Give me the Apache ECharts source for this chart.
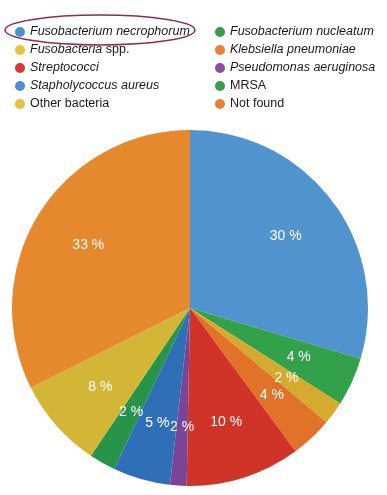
<!DOCTYPE html>
<html><head><meta charset="utf-8">
<script src="https://cdn.jsdelivr.net/npm/echarts@6/dist/echarts.min.js"></script>
<style>html,body{margin:0;padding:0;background:#fff}#c{width:387px;height:495px}</style>
</head><body><div id="c"></div>
<script>
const categories = ['Fusobacterium necrophorum','Fusobacterium nucleatum','Fusobacteria spp.','Klebsiella pneumoniae','Streptococci','Pseudomonas aeruginosa','Stapholycoccus aureus','MRSA','Other bacteria','Not found'];
const legendText = ['{i|Fusobacterium necrophorum}','{i|Fusobacterium nucleatum}','{i|Fusobacteria} spp.','{i|Klebsiella pneumoniae}','{i|Streptococci}','{i|Pseudomonas aeruginosa}','{i|Stapholycoccus aureus}','MRSA','Other bacteria','Not found'];
const values = [29.6, 4.4, 2.1, 3.8, 10.4, 1.5, 5.2, 2.4, 8.2, 32.4];
const percentLabels = ['30 %','4 %','2 %','4 %','10 %','2 %','5 %','2 %','8 %','33 %'];
const sliceColors = ['#5193cf','#33a04a','#d6aa2e','#e07328','#d03328','#7b4597','#2e6fb7','#27944a','#d4b637','#e6892e'];
const legendColors = ['#4a8fd0','#3a9e48','#e6c440','#ec7e35','#d9382c','#8a4da0','#4a8fd0','#3a9e48','#e8c23e','#ec7e35'];

const chart = echarts.init(document.getElementById('c'), null, {renderer:'canvas'});
const data = categories.map((n,i)=>({name:n, value:values[i], itemStyle:{color:sliceColors[i]}}));
const FONT = 'Liberation Sans, Arial, sans-serif';
function legendFor(idxs, left){
  return {
    orient:'vertical', left:left, top:25, padding:0, icon:'circle', itemWidth:10, itemHeight:10, itemGap:4,
    selectedMode:false,
    data: idxs.map(i=>({name:categories[i], itemStyle:{color:legendColors[i]}})),
    formatter: name => legendText[categories.indexOf(name)],
    textStyle:{fontFamily:FONT, fontSize:12.5, color:'#1a1a1a', lineHeight:14,
      rich:{i:{fontStyle:'italic', fontFamily:FONT, fontSize:12.5, color:'#1a1a1a', lineHeight:14}}}
  };
}
chart.setOption({
  animation:false,
  legend:[legendFor([0,2,4,6,8],15), legendFor([1,3,5,7,9],215)],
  graphic:[{type:'ellipse', shape:{cx:100, cy:30, rx:95, ry:15}, style:{fill:'none', stroke:'#8e2a5a', lineWidth:1.5}, z:100}],
  series:[
    {type:'pie', center:[190,308], radius:[0,178], startAngle:90, clockwise:true, data:data,
     label:{show:false}, labelLine:{show:false}, emphasis:{disabled:true}},
    {type:'pie', center:[190,308], radius:[55,178], startAngle:90, clockwise:true, silent:true,
     legendHoverLink:false,
     data: categories.map((n,i)=>({name:n+' ', value:values[i], itemStyle:{color:'rgba(0,0,0,0)'}})),
     label:{show:true, position:'inside', formatter:p=>percentLabels[p.dataIndex], color:'#fff',
       fontFamily:FONT, fontSize:14},
     labelLine:{show:false}, emphasis:{disabled:true}}
  ]
});
</script></body></html>
